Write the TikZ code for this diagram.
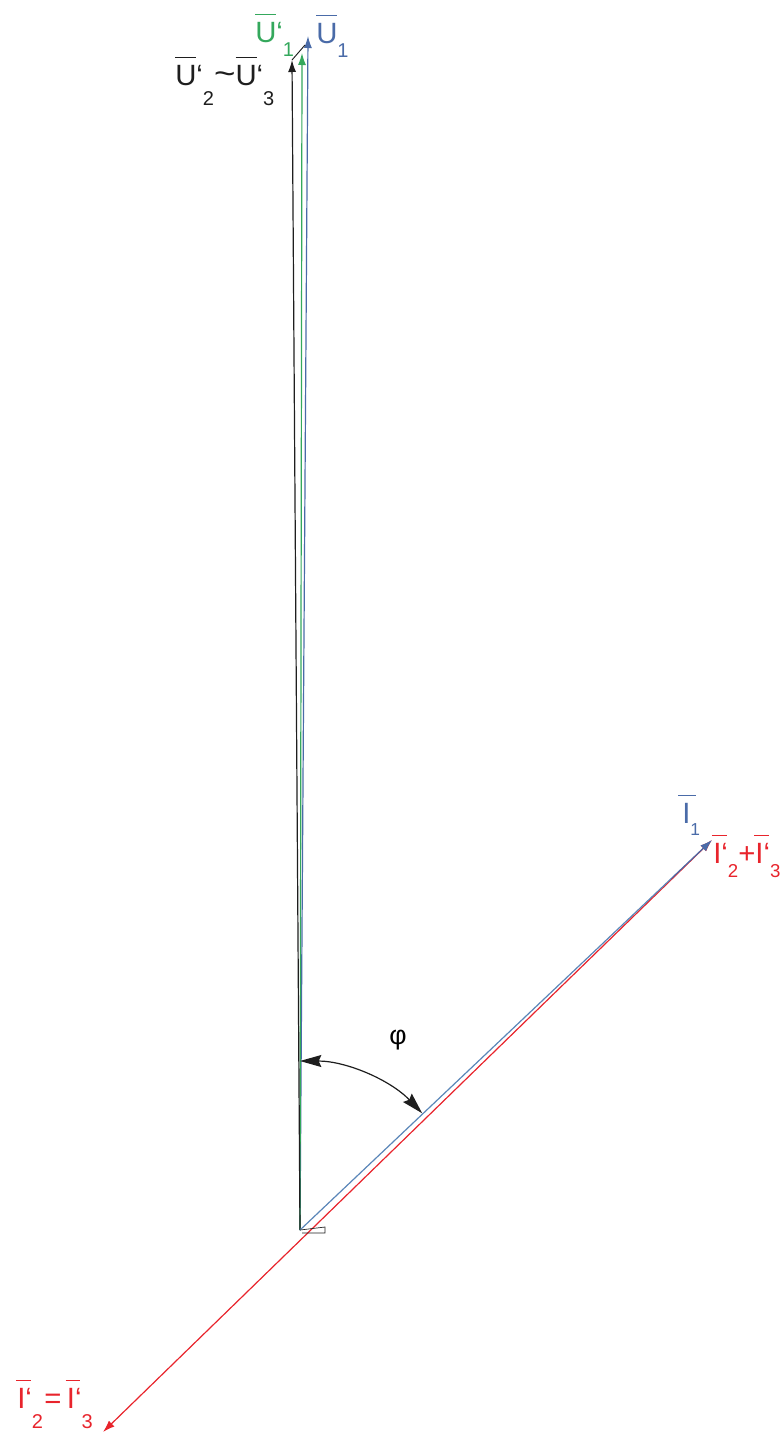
\documentclass[tikz,border=0pt]{standalone}
\usepackage{fontspec}
\setmainfont{Liberation Sans}
\usetikzlibrary{arrows.meta,calc}
\definecolor{vblue}{HTML}{4A6BA8}
\definecolor{lblue}{HTML}{5A86B8}
\definecolor{vgreen}{HTML}{34A85C}
\definecolor{vred}{HTML}{E8242C}
\definecolor{vblack}{HTML}{1E1E1E}
\newsavebox\ovlbox
% overbar: #1 = left overhang, #2 = right overhang, #3 = letter
\newcommand\ovl[3]{\sbox\ovlbox{#3}\rlap{\kern-#1\rule[\dimexpr\ht\ovlbox+5pt\relax]{\dimexpr\wd\ovlbox+#1+#2\relax}{1.1pt}}\usebox\ovlbox}
% subscript: #1 = size, #2 = drop, #3 = text
\newcommand\sbs[3]{\raisebox{-#2}{\fontsize{#1}{#1}\selectfont #3}}
\tikzset{
  vec/.style={line width=0.9pt,-{Latex[length=9pt,width=6pt]}},
  lab/.style={inner sep=0pt,font=\fontsize{22pt}{24pt}\selectfont},
}
\begin{document}
\begin{tikzpicture}[x=0.75pt,y=-0.75pt]
\useasboundingbox (0,0) rectangle (783,1435);
% points
\coordinate (O) at (300,1230);
\coordinate (Ub) at (292,60);
\coordinate (Ug) at (302,53);
\coordinate (U1) at (308,36);
\coordinate (Um) at (305,45);
\coordinate (I1) at (712,840);
\coordinate (Ir) at (103,1432);
\coordinate (Rm) at ($(Ir)!0.33!(I1)$);
\coordinate (Bm) at ($(O)!0.9!(I1)$);
% red line
\draw[vred,vec] (Rm) -- (I1);
\draw[vred,vec] (Rm) -- (Ir);
% labels (drawn under the vectors)
\node[lab,anchor=base,font=\fontsize{20pt}{22pt}\selectfont] (phi) at (398,1044) {φ};
\node[lab,anchor=base west,vblack] (lU23) at (175,85)
  {\ovl{0pt}{0pt}{U}‘\sbs{15pt}{15pt}{2}\raisebox{0.5pt}{\scalebox{1.25}[1.1]{\textasciitilde}}\ovl{0pt}{0pt}{U}‘\sbs{15pt}{15pt}{3}};
\node[lab,anchor=base west,vgreen] (lUg) at (255,42) {\ovl{0pt}{0pt}{U}‘\sbs{15pt}{10.5pt}{1}};
\node[lab,anchor=base west,vblue] (lU1) at (316,43) {\ovl{0pt}{0pt}{U}\sbs{15pt}{10.5pt}{1}};
\node[lab,anchor=base west,vblue] (lI1) at (682,823) {\ovl{3pt}{4pt}{I}\sbs{13pt}{9pt}{1}};
\node[lab,anchor=base west,vred] (lIp) at (713,863)
  {\ovl{1pt}{4pt}{I}‘\sbs{14pt}{10.5pt}{2}+\ovl{1pt}{4pt}{I}‘\sbs{14pt}{10.5pt}{3}};
\node[lab,anchor=base west,vred] (lIm) at (17,1408)
  {\ovl{1pt}{4pt}{I}‘\sbs{15pt}{15pt}{2}\kern1pt=\kern4pt\ovl{1pt}{4pt}{I}‘\sbs{15pt}{15pt}{3}};
% vertical vectors
\draw[vblue,vec] (O) -- (U1);
\draw[vgreen,vec] (O) -- (Ug);
\draw[vblack,vec] (O) -- (Ub);
\draw[vblack,line width=0.7pt] (Ub) -- (Um);
% I1
\draw[lblue,line width=0.9pt] (O) -- (Bm);
\draw[vblue,vec] (Bm) -- (I1);
% small marker at origin
\draw[vblack,line width=0.5pt] (O) -- (325,1227) -- (325,1233) -- (302,1233);
% angle arc
\draw[vblack,line width=0.9pt,{Stealth[length=16pt,width=9pt,inset=2pt]}-{Stealth[length=16pt,width=9pt,inset=2pt]}]
  (300,1061) arc[start angle=-90,end angle=-43.7,radius=169];
\end{tikzpicture}
\end{document}
